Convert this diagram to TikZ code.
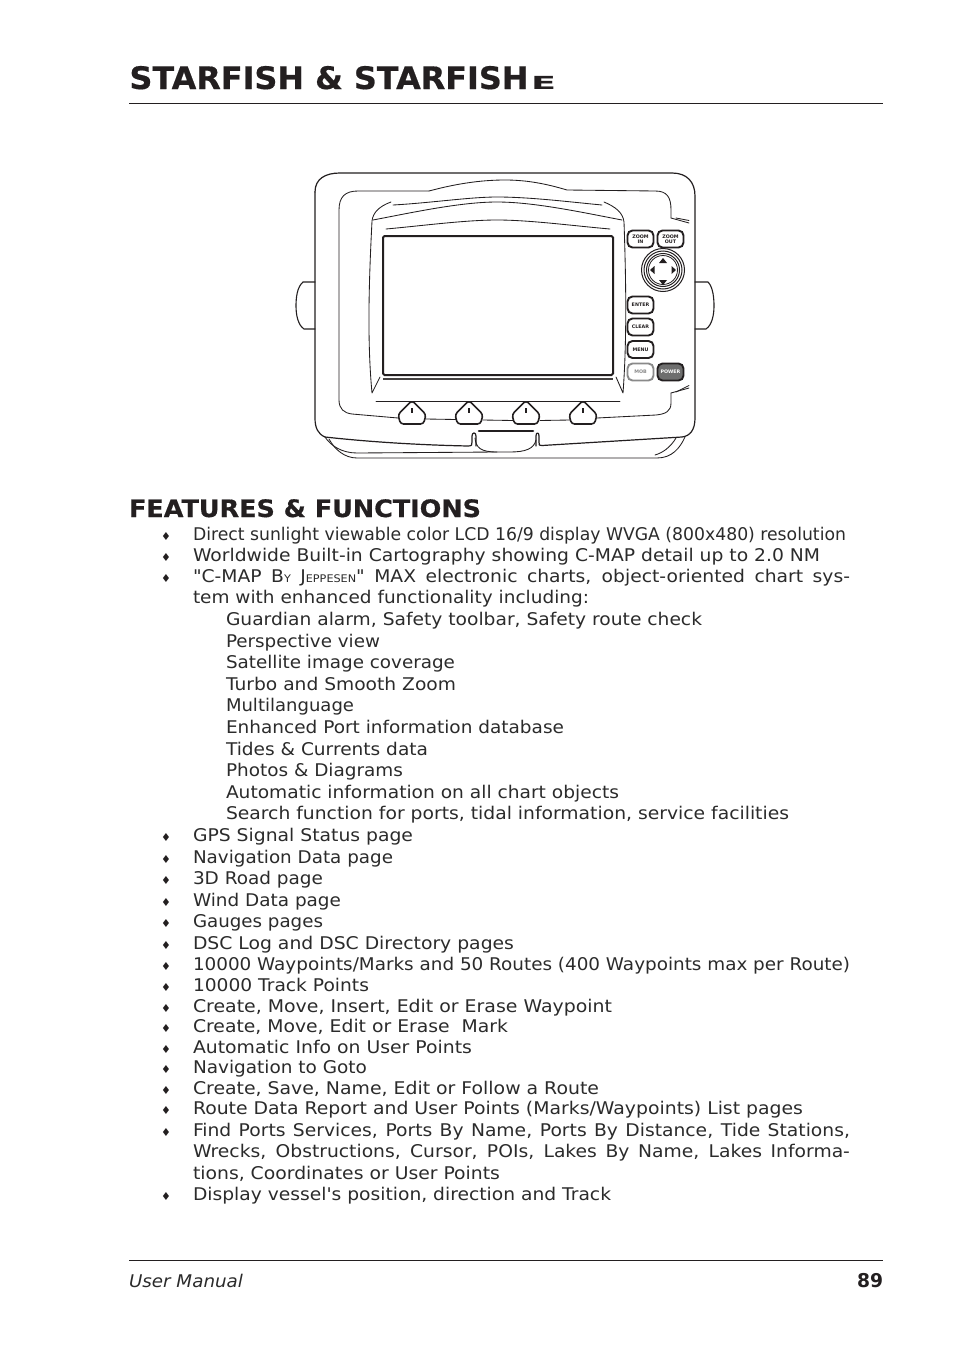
\documentclass[tikz,border=0pt]{standalone}
\usepackage{fontspec}
\usepackage{graphicx}
\setmainfont[Ligatures=TeXOff]{DejaVu Sans}
\newfontfamily\heavyfont[Ligatures=TeXOff,BoldFeatures={FakeBold=0.5}]{DejaVu Sans}
\definecolor{ink}{HTML}{231F20}
\definecolor{softink}{HTML}{2B2B2B}
\definecolor{mobgray}{HTML}{8A8A8A}
\definecolor{powergray}{HTML}{6E6E6E}
\newsavebox\fitbox
\newcommand{\fitline}[2]{\sbox\fitbox{#2}\pgfmathsetmacro{\fitr}{(#1)/\wd\fitbox}\scalebox{\fitr}[1]{\usebox\fitbox}}
\newcommand{\justline}[2]{\scalebox{1.07}[1]{\hbox to 614pt{\spaceskip=\fontdimen2\font plus 1fil\relax #2}}}
\newcommand{\bodyfont}{\fontsize{17.5}{20}\selectfont}
\newcommand{\txl}[5]{\node[tx] (#1) at (#2,#3) {\fitline{#4-#2}{#5}};}
\newcommand{\bul}[2]{\node[bl] (b#1) at ({166},{#2-3.5}) {♦};}
\newcommand{\litem}[4]{\bul{#1}{#2}\txl{#1}{193}{#2}{#3}{#4}}
\begin{document}
\begin{tikzpicture}[x=1pt,y=-1pt,
  tx/.style={anchor=base west,inner sep=0pt,outer sep=0pt,text=softink,font=\bodyfont},
  bl/.style={anchor=center,inner sep=0pt,outer sep=0pt,text=ink,font=\fontsize{11}{12}\selectfont},
  rulel/.style={draw=ink,line width=1pt},
  thinl/.style={draw=ink,line width=0.85pt,line cap=round,line join=round},
  midl/.style={draw=ink,line width=1.1pt,line cap=round,line join=round},
  btn/.style={draw=ink,line width=1.9pt,rounded corners=5pt,minimum width=26pt,minimum height=17pt,inner sep=0pt,fill=white,align=center,text=ink,font=\fontsize{4.8}{5}\selectfont\bfseries},
  softkey/.style={draw=ink,line width=1.6pt,fill=white,rounded corners=3pt,line join=round}]
\useasboundingbox[fill=white] (0,0) rectangle (954,1354);

% header
\node[tx,text=ink,font=\fontsize{31}{34}\selectfont\heavyfont\bfseries] (title) at (129.5,89) {\fitline{399}{STARFISH \& STARFISH}};
\node[tx,text=ink,font=\fontsize{18}{20}\selectfont\bfseries] (titlee) at (531,89) {\fitline{25}{E}};
\coordinate (hl) at (129,103); \coordinate (hr) at (883,103);
\draw[rulel] (hl) -- (hr);

% device: handles
\draw[midl] (315,282) -- (303,282) .. controls (297,287) and (296,298) .. (296,306) .. controls (296,315) and (298,325) .. (304,329) -- (315,329);
\draw[midl] (695,282) -- (708,282) .. controls (713,287) and (714,298) .. (714,306) .. controls (714,315) and (712,325) .. (706,329) -- (695,329);
% lower cradle
\draw[thinl] (325,437) .. controls (331,446) and (342,453) .. (357,453) -- (497,452);
\draw[thinl] (329,439) .. controls (335,450) and (345,458) .. (357,458) -- (657,458) .. controls (672,458) and (680,448) .. (685,437);
\draw[thinl] (475,438) .. controls (476,448) and (481,452) .. (497,452) -- (510,452) .. controls (525,452) and (534,449) .. (536,440);
\draw[thinl] (676,438) .. controls (670,448) and (662,453) .. (655,455);
% outer body
\draw[midl,line width=1.2pt] (315,192) .. controls (315,179) and (325,173) .. (340,173) -- (672,173) .. controls (687,173) and (695,182) .. (695,196) -- (695,418) .. controls (695,430) and (690,436) .. (682,437) -- (542,445.5) .. controls (539,446) and (539,445) .. (539,442) -- (539,436) .. controls (539,432) and (536,432) .. (536,436) -- (536,446);
\draw[midl,line width=1.2pt] (315,192) -- (315,418) .. controls (315,428) and (318,434) .. (325,437) .. controls (370,442) and (420,445) .. (468,446) .. controls (472,446) and (472,445) .. (472,442) -- (472,436) .. controls (472,432) and (476,432) .. (476,436) -- (476,446);
% inner bezel
\draw[thinl] (429,191) -- (358,191) .. controls (345,191) and (339,197) .. (339,210) -- (339,400) .. controls (339,409) and (344,413) .. (352,414) -- (398,418);
\draw[thinl] (429,191) .. controls (455,184) and (480,180) .. (505,180) .. controls (530,180) and (550,185) .. (567,190) -- (655,191) .. controls (667,191) and (671,197) .. (671,210) -- (671,218);
\draw[thinl] (671,393) -- (671,403) .. controls (671,411) and (666,414) .. (656,415) -- (597,418);
\draw[thinl] (671,218) -- (689,223);
\draw[thinl] (676,218) -- (689,220.5);
\draw[thinl] (671,393) -- (689,388);
\draw[thinl] (676,392) -- (689,385.5);
\draw[thinl] (426,419) -- (456,419.5);
\draw[thinl] (483,420) -- (513,420.5);
\draw[thinl] (540,420.5) -- (570,420);
% screen bezel arcs
\draw[thinl] (393,205) .. controls (430,203) and (470,197) .. (497,197) .. controls (530,197) and (570,202) .. (602,205);
\draw[thinl] (373,220) .. controls (410,213) and (460,202) .. (497,202) .. controls (535,202) and (585,213) .. (622,220);
\draw[thinl] (391,202) .. controls (380,206) and (373,212) .. (372,221) .. controls (369,280) and (367,340) .. (372,393) -- (380,377);
\draw[thinl] (604,202) .. controls (616,207) and (623,213) .. (624,222) .. controls (626,280) and (627,340) .. (623,393) -- (616,377);
\draw[thinl] (386,229) .. controls (420,226) and (465,220) .. (497,220) .. controls (530,220) and (575,226) .. (610,229);
% screen
\draw[draw=ink,line width=2pt,rounded corners=1.5pt,fill=white] (383,236) rectangle (613,375);
\draw[draw=ink!85,line width=1.4pt] (383,379) -- (613,379);
\draw[thinl] (376,401) -- (620,401);
% softkeys
\foreach \kx in {412,469,526,583}{
  \draw[softkey] (\kx,400.5) -- (\kx+14,414.5) -- (\kx+11.5,424) -- (\kx-11.5,424) -- (\kx-14,414.5) -- cycle;
  \draw[draw=ink,line width=1.2pt] (\kx,408) -- (\kx,413);
}
% slot
\draw[draw=ink,line width=2.6pt,line cap=round] (479,431) -- (533,431);
% buttons
\node[btn] (zoomin) at (640.5,239) {ZOOM\\IN};
\node[btn] (zoomout) at (670.5,239) {ZOOM\\OUT};
\node[btn] (enter) at (640.5,305) {ENTER};
\node[btn] (clear) at (640.5,327) {CLEAR};
\node[btn] (menu) at (640.5,349.5) {MENU};
\node[btn,draw=mobgray,text=mobgray] (mob) at (640.5,372) {MOB};
\node[btn,fill=powergray,text=white] (power) at (670.5,372) {POWER};
% joystick
\draw[draw=ink,line width=1pt] (663,270) circle (21.5);
\draw[draw=ink,line width=1pt] (663,270) circle (19);
\draw[draw=ink,line width=1pt] (663,270) circle (16.5);
\draw[draw=ink,line width=0.8pt] (663,270) circle (14.5);
\fill[ink] (663,258) -- (667,263) -- (659,263) -- cycle;
\fill[ink] (663,285) -- (667,280) -- (659,280) -- cycle;
\fill[ink] (650,270) -- (654.5,266) -- (654.5,274) -- cycle;
\fill[ink] (676,270) -- (671.5,266) -- (671.5,274) -- cycle;

% heading
\node[tx,text=ink,font=\fontsize{24}{26}\selectfont\heavyfont\bfseries] (heading) at (129,517) {\fitline{352}{FEATURES \& FUNCTIONS}};

% list
\litem{a}{540}{846}{Direct sunlight viewable color LCD 16/9 display WVGA (800x480) resolution}
\litem{c}{561}{820}{Worldwide Built-in Cartography showing C-MAP detail up to 2.0 NM}
\bul{d}{582}
\node[tx] (d) at (193,582) {\justline{657}{"C-MAP B{\fontsize{10.5}{12}\selectfont Y} J{\fontsize{10.5}{12}\selectfont EPPESEN}" MAX electronic charts, object-oriented chart sys-}};
\txl{e}{193}{603}{589}{tem with enhanced functionality including:}
\txl{f1}{226}{625}{702}{Guardian alarm, Safety toolbar, Safety route check}
\txl{f2}{226}{647}{380}{Perspective view}
\txl{f3}{226}{668}{455}{Satellite image coverage}
\txl{f4}{226}{690}{456}{Turbo and Smooth Zoom}
\txl{f5}{226}{711}{354}{Multilanguage}
\txl{f6}{226}{733}{564}{Enhanced Port information database}
\txl{f7}{226}{755}{428}{Tides \& Currents data}
\txl{f8}{226}{776}{403}{Photos \& Diagrams}
\txl{f9}{226}{798}{619}{Automatic information on all chart objects}
\txl{f10}{226}{819}{789}{Search function for ports, tidal information, service facilities}
\litem{g}{841}{413}{GPS Signal Status page}
\litem{h}{863}{393}{Navigation Data page}
\litem{i}{884}{323}{3D Road page}
\litem{j}{906}{341}{Wind Data page}
\litem{k}{927}{323}{Gauges pages}
\litem{l}{949}{514}{DSC Log and DSC Directory pages}
\litem{m}{970}{850}{10000 Waypoints/Marks and 50 Routes (400 Waypoints max per Route)}
\litem{n}{991}{369}{10000 Track Points}
\litem{o}{1012}{612}{Create, Move, Insert, Edit or Erase Waypoint}
\litem{p}{1032}{508}{Create, Move, Edit or Erase \ Mark}
\litem{q}{1053}{472}{Automatic Info on User Points}
\litem{r}{1073}{367}{Navigation to Goto}
\litem{s}{1094}{599}{Create, Save, Name, Edit or Follow a Route}
\litem{t}{1114}{803}{Route Data Report and User Points (Marks/Waypoints) List pages}
\bul{u}{1136}
\node[tx] (u) at (193,1136) {\justline{657}{Find Ports Services, Ports By Name, Ports By Distance, Tide Stations,}};
\node[tx] (v) at (193,1157) {\justline{657}{Wrecks, Obstructions, Cursor, POIs, Lakes By Name, Lakes Informa-}};
\txl{w}{193}{1179}{500}{tions, Coordinates or User Points}
\litem{x}{1200}{611}{Display vessel's position, direction and Track}

% footer
\coordinate (fl) at (129,1260); \coordinate (fr) at (883,1260);
\draw[rulel] (fl) -- (fr);
\node[tx,font=\fontsize{17.5}{20}\selectfont\itshape] (um) at (129,1287) {\fitline{114}{User Manual}};
\node[tx,text=ink,font=\fontsize{19}{20}\selectfont\bfseries] (pg) at (857,1287) {\fitline{26}{89}};
\end{tikzpicture}
\end{document}
